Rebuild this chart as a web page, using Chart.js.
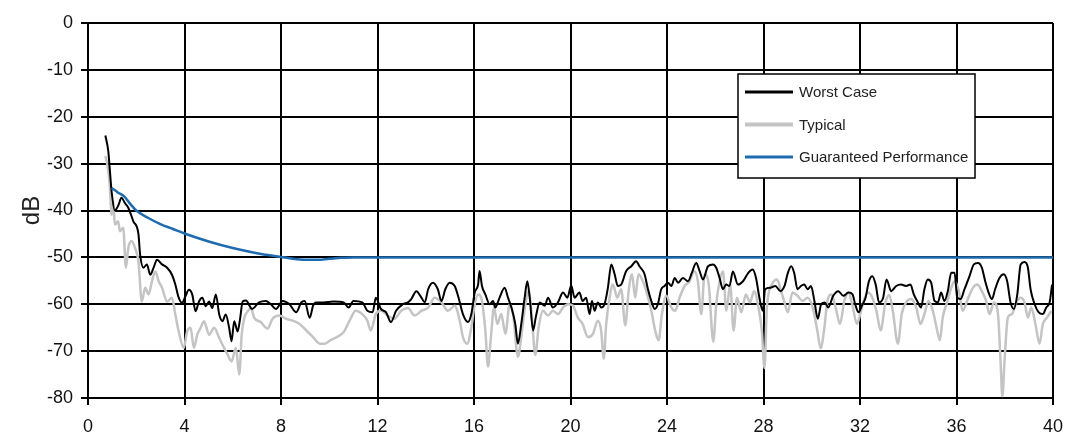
<!DOCTYPE html>
<html>
<head>
<meta charset="utf-8">
<title>Crosstalk vs frequency</title>
<script src="https://cdn.jsdelivr.net/npm/chart.js@4.4.1/dist/chart.umd.min.js"></script>
<style>
  html, body { margin: 0; padding: 0; background: #fff; }
  #wrap { width: 1067px; height: 444px; }
</style>
</head>
<body>
<div id="wrap"><canvas id="chart" width="1067" height="444"></canvas></div>
<script>
// Frequency axis ticks (0..40 step 4) and level axis ticks (0..-80 step 10)
const xTicks = [0, 4, 8, 12, 16, 20, 24, 28, 32, 36, 40];
const yTicks = [0, -10, -20, -30, -40, -50, -60, -70, -80];

const seriesNames = ['Worst Case', 'Typical', 'Guaranteed Performance'];

// Worst case measurement
const worstX = [0.72,0.84,0.9,0.98,1.11,1.25,1.39,1.53,1.67,1.88,2.09,2.16,2.3,2.44,2.58,2.72,2.86,3.07,3.28,3.48,3.62,3.76,3.9,4.04,4.18,4.32,4.46,4.6,4.74,4.88,5.02,5.15,5.3,5.44,5.57,5.71,5.85,5.95,6.06,6.2,6.31,6.41,6.55,6.8,7.09,7.37,7.58,7.79,8.07,8.35,8.63,8.84,8.98,9.19,9.33,9.45,9.75,10.18,10.6,10.8,11.0,11.37,11.58,11.8,11.93,12.14,12.35,12.56,12.77,13.05,13.26,13.4,13.61,13.82,13.96,14.1,14.3,14.5,14.65,14.81,14.99,15.2,15.36,15.54,15.75,15.89,16.03,16.17,16.23,16.33,16.47,16.65,16.79,16.88,17.06,17.27,17.41,17.55,17.71,17.82,17.96,18.1,18.21,18.31,18.45,18.56,18.72,18.93,19.07,19.27,19.48,19.69,19.87,20.03,20.17,20.37,20.5,20.65,20.79,20.89,21.0,21.13,21.27,21.41,21.55,21.69,21.83,21.96,22.1,22.31,22.52,22.72,22.86,23.07,23.21,23.35,23.49,23.62,23.76,23.9,24.04,24.18,24.32,24.46,24.66,24.87,25.03,25.21,25.35,25.49,25.7,25.91,26.04,26.18,26.32,26.45,26.59,26.73,26.94,27.15,27.37,27.55,27.69,27.83,27.97,28.07,28.28,28.49,28.7,28.87,29.01,29.15,29.27,29.41,29.55,29.69,29.83,29.97,30.11,30.25,30.39,30.54,30.68,30.89,31.1,31.31,31.52,31.69,31.8,31.94,32.08,32.23,32.37,32.51,32.65,32.79,32.96,33.1,33.29,33.5,33.7,33.91,34.09,34.23,34.4,34.53,34.67,34.81,34.95,35.09,35.23,35.36,35.5,35.64,35.78,35.92,36.03,36.17,36.33,36.54,36.72,36.89,37.05,37.19,37.33,37.47,37.6,37.78,37.96,38.1,38.24,38.38,38.52,38.66,38.82,38.96,39.07,39.24,39.4,39.58,39.72,39.86,39.96];
const worstY = [-24,-27.3,-31,-36,-40,-39,-37.3,-38.4,-39.4,-42.3,-45,-49.4,-52.2,-51.5,-53.7,-52.2,-50.5,-51.5,-52.2,-53.7,-55.8,-58.6,-59.7,-58.3,-56.9,-57.9,-61.5,-59.4,-58.6,-60.4,-59.4,-60.8,-57.9,-62.2,-63.6,-62.2,-65,-67.9,-63.6,-65.8,-62.9,-59.4,-59.2,-61,-59.6,-59.3,-60,-61,-59.3,-60,-61.7,-59.6,-59.3,-62.9,-60.3,-59.6,-59.6,-59.4,-59.6,-60.7,-59.3,-59.6,-61.4,-61.7,-58.6,-61,-61.7,-63.8,-61.4,-60,-59.6,-58.9,-57.2,-58.6,-59.6,-56.8,-55.4,-56.8,-59.3,-56.8,-55.4,-56.1,-58.6,-62.1,-63.8,-62.1,-57.5,-55.8,-52.9,-56.1,-57.9,-60,-59.3,-60.7,-58.6,-56.5,-58.6,-60.7,-64.2,-68.4,-64.2,-58.6,-55.1,-58.6,-65.6,-62.8,-59.6,-60.3,-58.6,-60.7,-59.6,-57.5,-58.6,-56,-58.6,-57.5,-59.3,-58.6,-62.1,-59.3,-61.4,-59.6,-60.7,-60,-56.5,-51.5,-53.6,-56.1,-55.8,-52.9,-51.9,-50.8,-51.9,-53.6,-56.8,-59.3,-61,-60,-56.8,-56.1,-55.4,-56.1,-54.4,-55.4,-54.4,-55.1,-53.3,-51.2,-52.9,-54.7,-51.9,-51.5,-52.2,-54.4,-56.8,-55.8,-56.1,-53,-55.8,-55.1,-53.3,-52.6,-54.4,-58.6,-61.4,-56.8,-56.5,-56.1,-57.2,-56.1,-53.3,-51.9,-53.3,-56.8,-56.1,-55.8,-56.8,-56.1,-59.3,-63.1,-60,-59.6,-60.7,-58.2,-57.2,-58.2,-57.5,-57.9,-60,-61.7,-60.3,-58.6,-55.1,-54,-55.8,-59.6,-58.6,-54.7,-57.2,-56.1,-55.8,-56.1,-55.8,-57.9,-59.6,-60.7,-56.8,-54.7,-55.4,-59.3,-59.6,-57.5,-59.3,-57.2,-53.3,-53.3,-58.6,-58.9,-56.8,-54,-51.5,-51.2,-52.2,-55.1,-57.5,-58.9,-56.8,-54.4,-53.6,-55.1,-59.6,-61,-57.9,-51.5,-51,-52.2,-56.8,-60,-61.7,-62.1,-60.7,-59.6,-55.8];

// Typical measurement
const typicalX = [0.72,0.8,0.9,0.98,1.05,1.11,1.25,1.32,1.46,1.57,1.67,1.81,1.95,2.09,2.23,2.37,2.51,2.65,2.79,2.93,3.07,3.28,3.48,3.62,3.76,3.97,4.11,4.25,4.39,4.53,4.67,4.81,5.02,5.23,5.44,5.64,5.78,5.95,6.13,6.27,6.37,6.48,6.62,6.76,6.88,7.16,7.44,7.65,7.93,8.21,8.49,8.77,9.05,9.33,9.61,9.82,10.04,10.32,10.6,10.88,11.09,11.37,11.58,11.72,11.93,12.14,12.42,12.7,12.98,13.26,13.54,13.82,14.1,14.37,14.65,14.92,15.2,15.41,15.54,15.72,15.89,16.03,16.17,16.3,16.47,16.58,16.69,16.83,16.97,17.13,17.3,17.48,17.62,17.82,17.99,18.13,18.27,18.4,18.54,18.68,18.86,19.07,19.27,19.48,19.69,19.9,20.1,20.3,20.5,20.72,20.93,21.13,21.27,21.38,21.48,21.62,21.76,21.94,22.1,22.27,22.41,22.55,22.68,22.82,23.0,23.18,23.35,23.51,23.65,23.79,23.97,24.18,24.34,24.52,24.73,24.94,25.12,25.28,25.42,25.56,25.73,25.92,26.04,26.18,26.32,26.46,26.62,26.76,26.9,27.08,27.27,27.44,27.61,27.79,27.93,28.04,28.14,28.35,28.56,28.73,28.87,29.01,29.2,29.41,29.62,29.83,30.04,30.23,30.37,30.51,30.65,30.82,30.99,31.17,31.35,31.52,31.69,31.87,32.01,32.15,32.34,32.51,32.68,32.86,33.04,33.21,33.36,33.57,33.73,33.91,34.12,34.33,34.51,34.67,34.84,35.02,35.2,35.31,35.43,35.61,35.78,35.92,36.08,36.26,36.47,36.68,36.86,37.05,37.23,37.37,37.55,37.72,37.83,37.9,38.0,38.13,38.3,38.48,38.66,38.82,38.96,39.1,39.27,39.44,39.58,39.76,39.93];
const typicalY = [-28.4,-30.2,-34.4,-40.9,-38,-43,-42.3,-44.4,-43.7,-52.2,-48,-46.5,-48,-50.8,-59.4,-56.5,-57.9,-55.1,-53,-55.1,-56.5,-59.4,-58.6,-62.2,-65.8,-69.3,-65.8,-65,-69.3,-66.5,-65,-63.6,-66.5,-65,-67.2,-69.3,-70.7,-72.2,-69.3,-75,-66.5,-62.9,-61.5,-60.8,-62.8,-63.8,-65.2,-63.1,-62.4,-63.1,-63.5,-64.2,-65.6,-67,-68.4,-68.4,-67.7,-67,-65.9,-63.1,-61.4,-62.1,-63.5,-65.6,-62.1,-61.4,-62.4,-63.1,-61.4,-60.8,-62.4,-61.4,-60.7,-58.6,-59.6,-61.4,-60.3,-63.5,-67,-68.4,-64.9,-60,-57.9,-58.6,-65.6,-73.3,-67.7,-60.7,-64.2,-62.1,-66.3,-60,-62.1,-71.2,-65.6,-60,-57.2,-62.8,-70.8,-64.9,-61.4,-62.4,-61.4,-62.1,-60.7,-60,-60.3,-62.8,-64.2,-67,-66.3,-63.5,-65.6,-71.6,-64.2,-58.6,-55.8,-58.6,-56.8,-64.5,-57.2,-53.6,-58.6,-53.6,-55.1,-57.9,-61.4,-65.6,-67.7,-62.1,-58.2,-60.7,-61.4,-58.6,-56.1,-55.1,-52.9,-55.1,-62.1,-53.6,-55.8,-68,-60,-55.1,-53,-61.4,-55.8,-65.6,-58.6,-61.7,-57.9,-59.6,-57.2,-60.7,-65.6,-73.6,-60.7,-55.8,-54.7,-57.2,-59.6,-61.7,-57.5,-58.2,-59.3,-58.6,-60.7,-65.6,-69.4,-65.6,-59.3,-57.9,-60.7,-64.2,-59.3,-57.5,-60.3,-64.2,-62.1,-59.3,-57.5,-58.6,-61.4,-65.6,-60,-58,-61.4,-68.4,-62.1,-59.6,-58.9,-60.7,-64.2,-62.1,-59.3,-61.4,-65.6,-67.7,-62.8,-59.6,-56.5,-55.1,-56.8,-61.4,-58.9,-56.5,-55.8,-57.2,-59.3,-62.1,-59.6,-62.1,-72.6,-79.6,-71.2,-62.8,-62.1,-59.6,-58.6,-59.6,-62.8,-60.7,-64.2,-68.4,-64.2,-62.8,-61.4];

// Guaranteed performance limit
const guaranteedX = [0.98,1.25,1.5,1.75,2,2.5,3,3.5,4,5,6,7,8,8.5,9,9.5,10,10.5,11,40];
const guaranteedY = [-35.2,-36.2,-37,-38.6,-40,-41.6,-42.9,-43.9,-44.9,-46.6,-48.0,-49.1,-49.9,-50.3,-50.5,-50.5,-50.3,-50.1,-50,-50];

const seriesColors = ['#000000', '#c4c4c4', '#1f6bb0'];

function pairs(xs, ys) {
  return xs.map((x, i) => ({ x: x, y: ys[i] }));
}

// Boxed legend drawn inside the plot area, top right
const boxedLegend = {
  id: 'boxedLegend',
  afterDatasetsDraw(chart) {
    const ctx = chart.ctx;
    const a = chart.chartArea;
    const w = 237, h = 104;
    const left = a.right - 78 - w, top = a.top + 51;
    ctx.save();
    ctx.fillStyle = '#ffffff';
    ctx.fillRect(left, top, w, h);
    ctx.strokeStyle = '#000000';
    ctx.lineWidth = 1.5;
    ctx.strokeRect(left, top, w, h);
    ctx.font = '15px "Liberation Sans", Arial, sans-serif';
    ctx.textBaseline = 'middle';
    ctx.fillStyle = '#222';
    seriesNames.forEach((name, row) => {
      const ds = chart.data.datasets.find(d => d.label === name);
      const y = top + 18 + row * 32.5;
      ctx.strokeStyle = ds.borderColor;
      ctx.lineWidth = name === seriesNames[1] ? 4 : 3;
      ctx.beginPath();
      ctx.moveTo(left + 7, y);
      ctx.lineTo(left + 55, y);
      ctx.stroke();
      ctx.fillText(name, left + 61, y + 1);
    });
    ctx.restore();
  }
};

new Chart(document.getElementById('chart'), {
  type: 'line',
  data: {
    datasets: [
      {
        label: seriesNames[2],
        data: pairs(guaranteedX, guaranteedY),
        borderColor: seriesColors[2],
        borderWidth: 2.5,
        pointRadius: 0,
        cubicInterpolationMode: 'monotone',
        order: 0
      },
      {
        label: seriesNames[0],
        data: pairs(worstX, worstY),
        borderColor: seriesColors[0],
        borderWidth: 2,
        pointRadius: 0,
        cubicInterpolationMode: 'monotone',
        order: 1
      },
      {
        label: seriesNames[1],
        data: pairs(typicalX, typicalY),
        borderColor: seriesColors[1],
        borderWidth: 2.5,
        pointRadius: 0,
        cubicInterpolationMode: 'monotone',
        order: 2
      }
    ]
  },
  options: {
    responsive: false,
    animation: false,
    devicePixelRatio: 1,
    layout: { padding: { top: 23, right: 14, left: 0, bottom: 0 } },
    plugins: {
      legend: { display: false },
      tooltip: { enabled: false }
    },
    scales: {
      x: {
        type: 'linear',
        min: xTicks[0],
        max: xTicks[xTicks.length - 1],
        afterBuildTicks(scale) { scale.ticks = xTicks.map(v => ({ value: v })); },
        afterFit(scale) {
          scale.height = 46;
          scale.paddingLeft = 0;
          scale.paddingRight = 0;
        },
        grid: { color: '#000', lineWidth: 2, tickLength: 7, tickColor: '#000' },
        border: { color: '#000', width: 2 },
        ticks: {
          color: '#111',
          padding: 11,
          maxRotation: 0,
          font: { family: '"Liberation Sans", Arial, sans-serif', size: 18 }
        }
      },
      y: {
        type: 'linear',
        min: yTicks[yTicks.length - 1],
        max: yTicks[0],
        afterBuildTicks(scale) { scale.ticks = yTicks.map(v => ({ value: v })); },
        afterFit(scale) { scale.width = 88; },
        grid: { color: '#000', lineWidth: 2, tickLength: 7, tickColor: '#000' },
        border: { color: '#000', width: 2 },
        title: {
          display: true,
          text: 'dB',
          color: '#222',
          padding: { top: 18, bottom: 0 },
          font: { family: '"Liberation Sans", Arial, sans-serif', size: 24 }
        },
        ticks: {
          color: '#111',
          padding: 8,
          font: { family: '"Liberation Sans", Arial, sans-serif', size: 18 }
        }
      }
    }
  },
  plugins: [boxedLegend]
});
</script>
</body>
</html>
